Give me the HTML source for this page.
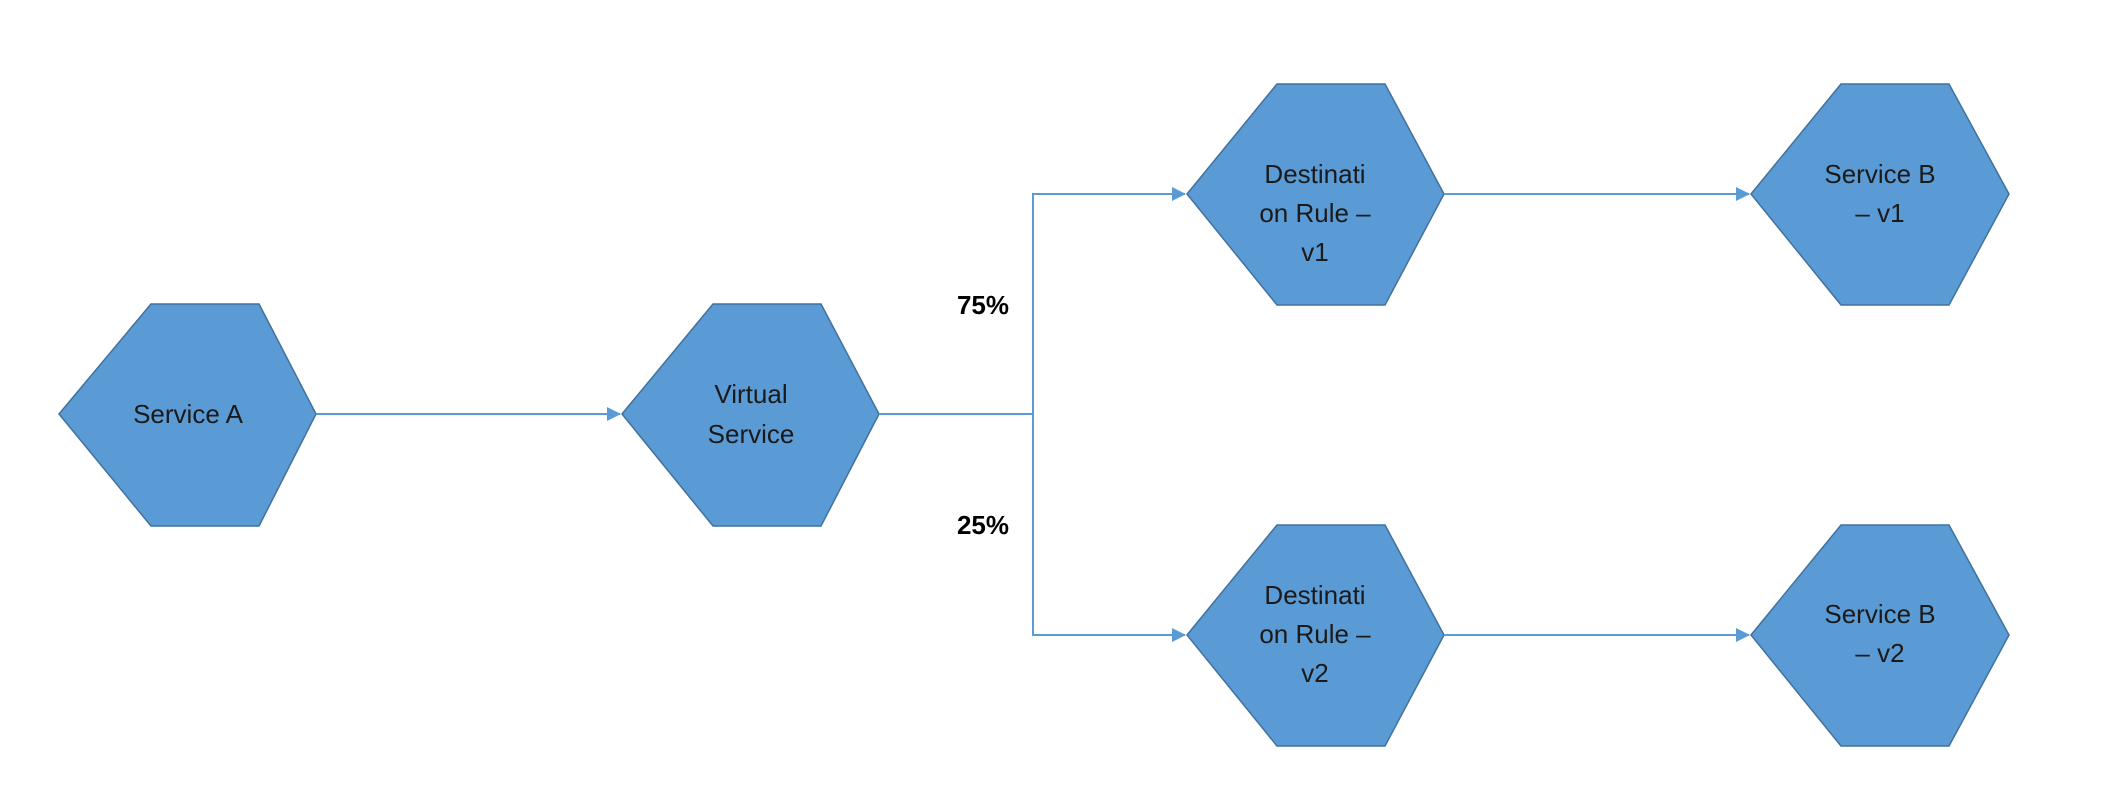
<!DOCTYPE html>
<html><head><style>
body{margin:0;background:#fff;}
svg{display:block;}
text{font-family:"Liberation Sans",sans-serif;font-size:26px;fill:#1a1a1a;text-anchor:middle;}
.b{font-weight:bold;fill:#000;font-size:26px;}
</style></head><body>
<svg width="2116" height="808" viewBox="0 0 2116 808">
<defs><marker id="a" markerWidth="14" markerHeight="14" refX="13" refY="7" orient="auto" markerUnits="userSpaceOnUse"><path d="M0,0 L14,7 L0,14 z" fill="#5b9bd5"/></marker></defs>
<g fill="#5b9bd5" stroke="#41719c" stroke-width="1.5">
<polygon points="59,414 151,304 259,304 316,414 259,526 151,526"/>
<polygon points="622,414 713,304 821,304 879,414 821,526 713,526"/>
<polygon points="1187,194 1277,84 1385,84 1444,194 1385,305 1277,305"/>
<polygon points="1751,194 1841,84 1949,84 2009,194 1949,305 1841,305"/>
<polygon points="1187,635 1277,525 1385,525 1444,635 1385,746 1277,746"/>
<polygon points="1751,635 1841,525 1949,525 2009,635 1949,746 1841,746"/>
</g>
<g stroke="#5b9bd5" stroke-width="2" fill="none">
<line x1="316" y1="414" x2="620" y2="414" marker-end="url(#a)"/>
<polyline points="879,414 1033,414"/>
<polyline points="1033,414 1033,194 1185,194" marker-end="url(#a)"/>
<polyline points="1033,414 1033,635 1185,635" marker-end="url(#a)"/>
<line x1="1444" y1="194" x2="1749" y2="194" marker-end="url(#a)"/>
<line x1="1444" y1="635" x2="1749" y2="635" marker-end="url(#a)"/>
</g>
<text x="188" y="423">Service A</text>
<text x="751" y="403">Virtual</text><text x="751" y="443">Service</text>
<text x="1315" y="183">Destinati</text>
<text x="1315" y="222">on Rule –</text><text x="1315" y="261">v1</text>
<text x="1880" y="183">Service B</text><text x="1880" y="222">– v1</text>
<text x="1315" y="604">Destinati</text><text x="1315" y="643">on Rule –</text><text x="1315" y="682">v2</text>
<text x="1880" y="623">Service B</text><text x="1880" y="662">– v2</text>
<text class="b" x="983" y="314">75%</text>
<text class="b" x="983" y="534">25%</text>
</svg>
</body></html>
